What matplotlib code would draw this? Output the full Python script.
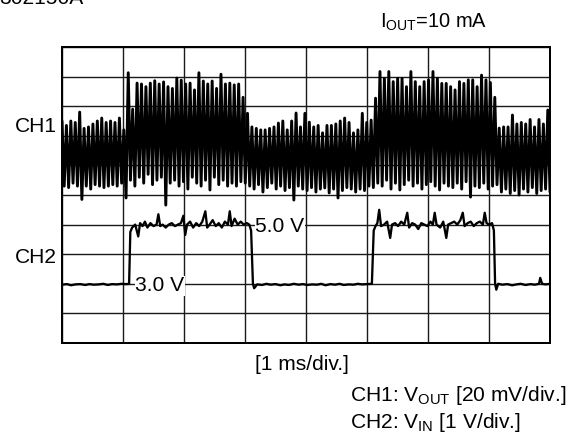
import numpy as np
import matplotlib
matplotlib.use("Agg")
import matplotlib.pyplot as plt

plt.rcParams['font.family'] = ['Liberation Sans', 'DejaVu Sans']
plt.rcParams['mathtext.fontset'] = 'custom'
plt.rcParams['mathtext.rm'] = 'Liberation Sans'
plt.rcParams['mathtext.it'] = 'Liberation Sans:italic'

# ---------------- data ----------------
# CH1 (V_OUT ripple), in screen divisions: successive peak / trough of each ripple cycle
ch1_peaks = [
    # light load
    7.5, 7.35, 7.5, 7.45, 7.8, 7.25, 7.3, 7.4, 7.5, 7.6, 7.45, 7.5, 7.45, 7.6, 7.2,
    # burst (V_IN = 5 V)
    9.13, 7.9, 8.78, 8.75, 8.66, 8.78, 8.86, 8.75, 8.82, 8.66, 8.6, 8.95, 8.88, 8.75,
    8.78, 8.55, 9.13, 8.85, 8.75, 8.85, 8.6, 9.08, 8.75, 8.78, 8.72, 8.75, 8.3,
    # light load
    7.76, 7.3, 7.25, 7.2, 7.2, 7.25, 7.3, 7.43, 7.5, 7.2, 7.5, 7.77, 7.3, 7.76, 7.46,
    7.3, 7.35, 7.1, 7.35, 7.35, 7.4, 7.5, 7.6, 7.45, 7.1, 7.2, 7.76, 7.45, 7.53,
    # burst
    8.27, 9.17, 8.94, 9.17, 8.83, 8.94, 8.94, 8.66, 9.17, 8.83, 8.66, 8.83, 8.89, 9.17,
    8.94, 8.77, 8.77, 8.66, 8.55, 8.83, 8.77, 8.89, 8.89, 8.66, 9.05, 8.89, 8.8, 8.3,
    # light load
    7.26, 7.3, 7.3, 7.7, 7.4, 7.45, 7.4, 7.55, 7.3, 7.55, 7.4, 7.87,
]
ch1_troughs = [
    5.3, 5.25, 5.4, 5.3, 4.85, 5.3, 5.2, 5.35, 5.3, 5.25, 5.3, 5.35, 5.3, 5.4, 4.9,
    5.5, 5.3, 5.6, 5.4, 5.7, 5.35, 5.5, 5.6, 4.66, 5.4, 5.5, 5.3, 5.45, 5.2,
    5.6, 5.4, 5.3, 5.5, 5.17, 5.6, 5.35, 5.5, 5.3, 5.4, 5.3, 5.45, 5.4,
    5.3, 5.2, 5.35, 5.1, 5.25, 5.4, 5.2, 5.3, 5.15, 5.25, 4.83, 5.3, 5.2, 5.15, 5.25,
    5.1, 5.2, 5.24, 5.07, 5.2, 4.9, 5.15, 5.25, 5.2, 5.1, 5.2, 5.15, 5.3, 5.25,
    5.4, 5.3, 5.5, 5.2, 5.4, 5.17, 5.35, 5.5, 5.3, 5.4, 5.2, 5.35, 5.45, 5.3,
    5.17, 5.4, 5.3, 5.25, 5.4, 5.2, 5.45, 4.93, 5.3, 5.25, 5.4, 5.2, 5.3, 5.35,
    5.1, 5.2, 5.05, 5.15, 5.0, 5.2, 5.1, 5.25, 5.05, 5.15, 5.2, 5.1,
]

# CH2 (V_IN) in volts, time in ms
ch2_t = [0, 0.08, 0.15, 0.22, 0.3, 0.38, 0.45, 0.52, 0.6, 0.68, 0.75, 0.82, 0.9, 0.97, 1.05, 1.1,
         1.12, 1.15,
         1.2, 1.25, 1.28, 1.32, 1.36, 1.4, 1.45, 1.5, 1.55, 1.58, 1.61, 1.65, 1.7, 1.75, 1.8, 1.85,
         1.9, 1.95, 1.99, 2.02, 2.05, 2.1, 2.15, 2.2, 2.25, 2.3, 2.35, 2.38, 2.42, 2.47, 2.52, 2.57,
         2.62, 2.67, 2.72, 2.75, 2.78, 2.83, 2.88, 2.93, 2.98, 3.03, 3.07,
         3.1, 3.13, 3.15,
         3.2, 3.28, 3.35, 3.42, 3.5, 3.58, 3.65, 3.72, 3.8, 3.88, 3.95, 4.02, 4.1, 4.18, 4.25, 4.32,
         4.4, 4.48, 4.55, 4.62, 4.7, 4.78, 4.85, 4.92, 5.0, 5.08,
         5.11, 5.14,
         5.17, 5.2, 5.23, 5.28, 5.33, 5.38, 5.41, 5.46, 5.51, 5.56, 5.61, 5.66, 5.69, 5.74, 5.79,
         5.84, 5.89, 5.94, 5.99, 6.04, 6.08, 6.11, 6.14, 6.2, 6.25, 6.3, 6.33, 6.38, 6.43, 6.48,
         6.53, 6.57, 6.6, 6.65, 6.7, 6.75, 6.8, 6.85, 6.9, 6.93, 6.96, 7.0, 7.05,
         7.08, 7.1, 7.12, 7.15,
         7.22, 7.3, 7.38, 7.45, 7.52, 7.6, 7.68, 7.75, 7.82, 7.84, 7.87, 7.93, 8.0]
ch2_v = [2.97, 2.99, 2.95, 2.98, 2.99, 2.96, 2.99, 2.97, 2.98, 3.0, 2.96, 2.99, 2.98, 3.0, 2.99, 3.0,
         4.75, 4.9,
         5.0, 4.6, 5.05, 4.95, 5.1, 4.9, 5.05, 4.95, 5.0, 5.35, 4.95, 5.0, 4.9, 5.0, 5.05, 4.95,
         5.0, 5.05, 5.3, 4.65, 5.0, 5.1, 4.9, 5.05, 4.95, 5.1, 5.45, 4.9, 5.0, 5.15, 4.95, 5.05,
         4.9, 5.1, 5.0, 5.45, 4.95, 5.2, 5.0, 5.1, 5.0, 5.05, 5.0,
         4.8, 3.0, 2.85,
         2.98, 2.96, 3.0, 2.97, 2.99, 2.95, 2.98, 2.96, 3.0, 2.97, 2.99, 2.96, 2.98, 2.97, 3.0, 2.95,
         2.99, 2.97, 3.0, 2.96, 2.98, 2.97, 3.0, 2.98, 2.99, 3.0,
         4.8, 4.95,
         5.05, 5.5, 4.95, 5.0, 5.1, 4.55, 5.0, 5.05, 4.95, 5.1, 5.0, 5.4, 4.9, 5.05, 5.0,
         4.85, 5.05, 5.0, 4.95, 5.1, 5.0, 5.4, 5.0, 4.9, 5.1, 4.55, 5.0, 5.05, 5.1, 5.0,
         5.15, 5.4, 4.95, 5.05, 5.1, 4.95, 5.05, 5.1, 5.0, 5.4, 5.05, 5.0, 5.05,
         4.8, 3.0, 2.8, 3.0,
         2.97, 2.99, 2.95, 2.98, 3.0, 2.96, 2.99, 2.97, 3.0, 3.2, 3.0, 2.98, 3.0]

ch2_offset_div = -1.0  # 3.0 V sits on division 2 (1 V/div)
level_labels = ["5.0 V", "3.0 V"]
level_volts = [5.0, 3.0]
level_label_t = [3.17, 1.2]

# ---------------- figure ----------------
W, H = 576, 433
fig = plt.figure(figsize=(W / 72, H / 72), dpi=72)
ax = fig.add_axes([62 / W, 1 - 343 / H, 488 / W, 296 / H])
ax.set_xlim(0, 8)
ax.set_ylim(0, 10)
ax.set_xticks(np.arange(0, 9))
ax.set_yticks(np.arange(0, 11))
ax.tick_params(length=0, labelleft=False, labelbottom=False)
ax.grid(True, color='#1a1a1a', lw=1.4)
ax.set_axisbelow(True)
for s in ax.spines.values():
    s.set_linewidth(2.0)
    s.set_color('black')

# CH1
n = len(ch1_peaks)
ch1 = np.empty(2 * n)
ch1[0::2] = ch1_peaks
ch1[1::2] = ch1_troughs
t1 = np.linspace(0, 8, 2 * n)
ax.plot(t1, ch1, color='black', lw=2.9, solid_joinstyle='round', solid_capstyle='round',
        zorder=3, clip_on=True)

# CH2
ax.plot(ch2_t, np.array(ch2_v) + ch2_offset_div, color='black', lw=2.3,
        solid_joinstyle='round', zorder=3)

fs = 21
for lab, v, tt in zip(level_labels, level_volts, level_label_t):
    ax.text(tt, v + ch2_offset_div, lab, fontsize=fs, ha='left', va='center_baseline',
            zorder=4, bbox=dict(facecolor='white', edgecolor='none', pad=0.5))

# Labels
fig.text(57 / W, 1 - 132 / H, "CH1", fontsize=fs, ha='right', va='baseline')
fig.text(57 / W, 1 - 263 / H, "CH2", fontsize=fs, ha='right', va='baseline')
fig.text(380 / W, 1 - 28 / H, r"$\mathrm{I_{OUT}}$=10 mA", fontsize=20, ha='left', va='baseline')
fig.text(255 / W, 1 - 370 / H, "[1 ms/div.]", fontsize=fs, ha='left', va='baseline')
fig.text(350 / W, 1 - 401 / H, r"CH1: $\mathrm{V_{OUT}}$ [20 mV/div.]", fontsize=fs,
         ha='left', va='baseline')
fig.text(350 / W, 1 - 428 / H, r"CH2: $\mathrm{V_{IN}}$ [1 V/div.]", fontsize=fs,
         ha='left', va='baseline')
fig.text(-1 / W, 1 - 4 / H, "302150A", fontsize=fs, ha='left', va='baseline')

fig.savefig("out.png", dpi=72)
